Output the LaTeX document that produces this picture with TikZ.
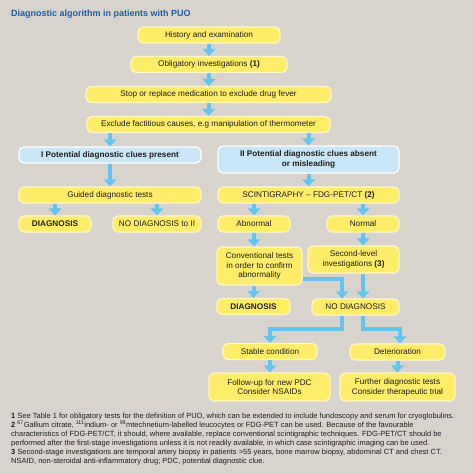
\documentclass[tikz,border=0pt]{standalone}
\usepackage{fontspec}
\setmainfont{Liberation Sans}
\usetikzlibrary{arrows.meta}
\definecolor{bg}{RGB}{216,212,205}
\definecolor{yfill}{RGB}{255,236,105}
\definecolor{yedge}{RGB}{255,248,195}
\definecolor{bfill}{RGB}{200,230,246}
\definecolor{arr}{RGB}{100,196,238}
\definecolor{ttl}{RGB}{30,94,165}
\definecolor{txt}{RGB}{30,30,30}
\begin{document}
\begin{tikzpicture}[x=1pt,y=-1pt,
  ybox/.style={draw=yedge, line width=1.2pt, fill=yfill, rounded corners=5pt, align=center,
    inner sep=0pt, font=\fontsize{8.2}{9.8}\selectfont, text=txt},
  bbox/.style={ybox, draw=white, fill=bfill, font=\fontsize{8.2}{9.8}\selectfont\bfseries},
  sz/.style 2 args={minimum width=#1pt, minimum height=#2pt},
  flow/.style={draw=arr, line width=4pt, -{Triangle[width=12.5pt,length=7pt]}},
  note/.style={anchor=base west, inner sep=0pt, font=\fontsize{7.5}{8}\selectfont, text=txt}]

\fill[bg] (0,0) rectangle (474,474);

\node[anchor=base west, inner sep=0pt, font=\fontsize{9}{11}\selectfont\bfseries, text=ttl] (title) at (11,16) {Diagnostic algorithm in patients with PUO};

\node[ybox, sz={142}{16}] (hist) at (209,35) {History and examination};
\node[ybox, sz={156}{16}] (oblig) at (209,64.5) {Obligatory investigations \textbf{(1)}};
\node[ybox, sz={245}{16}] (stop) at (208.5,94.5) {Stop or replace medication to exclude drug fever};
\node[ybox, sz={243}{16}] (excl) at (208.5,124.5) {Exclude factitious causes, e.g manipulation of thermometer};
\node[bbox, sz={182}{16}] (pot1) at (110,155) {I Potential diagnostic clues present};
\node[bbox, sz={181}{27}] (pot2) at (308.5,159.5) {II Potential diagnostic clues absent\\or misleading};
\node[ybox, sz={182}{16}] (guided) at (110,195) {Guided diagnostic tests};
\node[ybox, sz={181}{16}] (scint) at (308.5,195) {SCINTIGRAPHY -- FDG-PET/CT \textbf{(2)}};
\node[ybox, sz={72}{16}] (diag1) at (55,224) {\textbf{DIAGNOSIS}};
\node[ybox, sz={88}{16}] (nod2) at (157,224) {NO DIAGNOSIS to II};
\node[ybox, sz={72}{16}] (abn) at (254,224) {Abnormal};
\node[ybox, sz={72}{16}] (norm) at (363,224) {Normal};
\node[ybox, sz={85}{38}] (conv) at (259.5,266) {Conventional tests\\in order to confirm\\abnormality};
\node[ybox, sz={91}{27}] (second) at (353.5,259.5) {Second-level\\investigations \textbf{(3)}};
\node[ybox, sz={73}{16}] (diag2) at (253.5,306.5) {\textbf{DIAGNOSIS}};
\node[ybox, sz={87}{16}] (nodiag) at (355.5,307) {NO DIAGNOSIS};
\node[ybox, sz={94}{16}] (stable) at (270,351.5) {Stable condition};
\node[ybox, sz={95}{16}] (det) at (397.5,352) {Deterioration};
\node[ybox, sz={121}{28}] (follow) at (269.5,387) {Follow-up for new PDC\\Consider NSAIDs};
\node[ybox, sz={115}{28}] (further) at (397.5,387) {Further diagnostic tests\\Consider therapeutic trial};

\draw[flow] (hist) -- (oblig);
\draw[flow] (oblig) -- (stop);
\draw[flow] (stop) -- (excl);
\draw[flow] (excl.south -| pot1) -- (pot1.north);
\draw[flow] (excl.south -| pot2) -- (pot2.north);
\draw[flow] (pot1) -- (guided);
\draw[flow] (pot2) -- (scint);
\draw[flow] (guided.south -| diag1) -- (diag1.north);
\draw[flow] (guided.south -| nod2) -- (nod2.north);
\draw[flow] (scint.south -| abn) -- (abn.north);
\draw[flow] (scint.south -| norm) -- (norm.north);
\draw[flow] (abn.south) -- (conv.north -| abn);
\draw[flow] (norm.south) -- (second.north -| norm);
\draw[flow] (conv.south -| diag2) -- (diag2.north);
\draw[flow] ([yshift=-13pt]conv.east) -| ([xshift=-13.5pt]nodiag.north);
\draw[flow] (second.south -| norm) -- (nodiag.north -| norm);
\draw[flow] ([xshift=-13.5pt]nodiag.south) -- ++(0,13) -| (stable.north);
\draw[flow] (nodiag.south -| norm) -- ++(0,13) -| ([xshift=2.5pt]det.north);
\draw[flow] (stable.south) -- (follow.north -| stable);
\draw[flow] (det.south) -- (further.north -| det);

\node[note] (n1) at (11,418.4) {\textbf{1} See Table 1 for obligatory tests for the definition of PUO, which can be extended to include fundoscopy and serum for cryoglobulins.};
\node[note] (n2) at (11,427.5) {\textbf{2} \textsuperscript{67}Gallium citrate, \textsuperscript{111}indium- or \textsuperscript{99}mtechnetium-labelled leucocytes or FDG-PET can be used. Because of the favourable};
\node[note] (n3) at (11,436.6) {characteristics of FDG-PET/CT, it should, where available, replace conventional scintigraphic techniques. FDG-PET/CT should be};
\node[note] (n4) at (11,445.7) {performed after the first-stage investigations unless it is not readily available, in which case scintigraphic imaging can be used.};
\node[note] (n5) at (11,454.8) {\textbf{3} Second-stage investigations are temporal artery biopsy in patients >55 years, bone marrow biopsy, abdominal CT and chest CT.};
\node[note] (n6) at (11,463.9) {NSAID, non-steroidal anti-inflammatory drug; PDC, potential diagnostic clue.};
\end{tikzpicture}
\end{document}
